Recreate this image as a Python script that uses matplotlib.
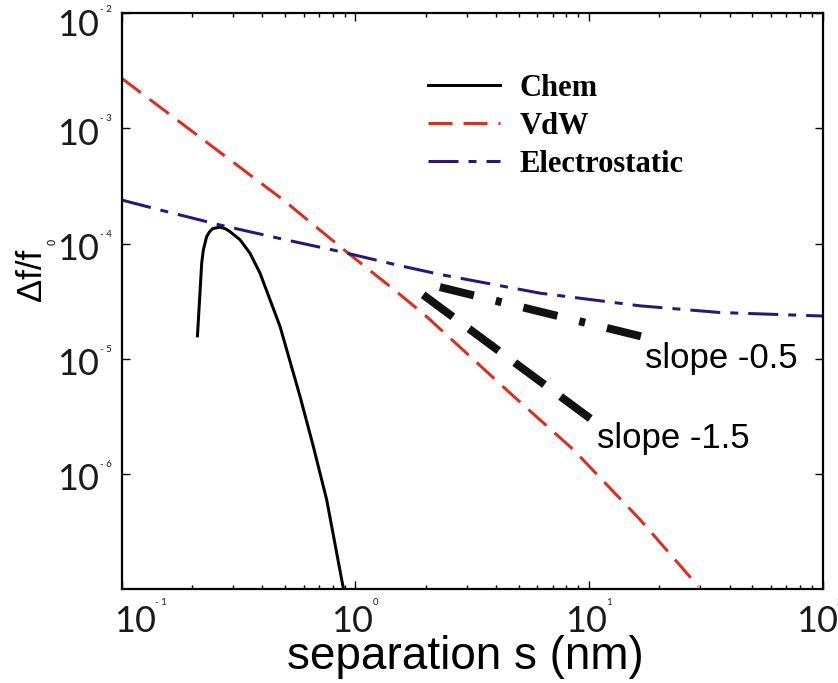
import matplotlib
matplotlib.use('Agg')
import matplotlib.pyplot as plt
from matplotlib.ticker import LogLocator, NullFormatter, NullLocator

# data (separation in nm, df/f0)
chem_s = [0.211, 0.220, 0.2236, 0.231, 0.238, 0.245, 0.2636, 0.279, 0.2908, 0.321, 0.354, 0.391, 0.476, 0.580, 0.661, 0.754, 0.888]
chem_df = [1.58e-5, 6.76e-5, 8.81e-5, 1.15e-4, 1.27e-4, 1.35e-4, 1.39e-4, 1.34e-4, 1.27e-4, 1.08e-4, 8.26e-5, 5.53e-5, 1.91e-5, 4.70e-6, 1.73e-6, 5.96e-7, 1.02e-7]

vdw_s = [0.1, 0.492, 0.888, 1.50, 2.02, 4.60, 8.58, 16.55, 29.4]
vdw_df = [2.73e-3, 2.39e-4, 8.93e-5, 3.83e-5, 2.32e-5, 5.02e-6, 1.62e-6, 4.0e-7, 1.05e-7]

elec_s = [0.1, 0.146, 0.2636, 0.492, 0.86, 1.50, 2.30, 6.18, 16.55, 36.4, 100]
elec_df = [2.39e-4, 1.96e-4, 1.45e-4, 1.09e-4, 8.53e-5, 6.53e-5, 5.4e-5, 3.71e-5, 2.88e-5, 2.52e-5, 2.35e-5]

slope15_s = [1.95, 10.3]
slope15_df = [3.59e-5, 2.95e-6]
slope05_s = [2.30, 16.8]
slope05_df = [4.19e-5, 1.56e-5]

xtick_vals = [0.1, 1, 10, 100]
xtick_exp = ['- 1', '0', '1', '2']
ytick_vals = [1e-2, 1e-3, 1e-4, 1e-5, 1e-6]
ytick_exp = ['- 2', '- 3', '- 4', '- 5', '- 6']

PX = 0.72  # points per pixel at dpi 100
plt.rcParams['lines.scale_dashes'] = False

red = '#dc2d1e'
navy = '#28167c'

fig = plt.figure(figsize=(8.38, 6.83), dpi=100)
ax = fig.add_axes([0.1452, 0.1376, 0.8365, 0.8429])

ax.plot(chem_s, chem_df, color='black', lw=3 * PX, label='Chem', solid_joinstyle='round')
ax.plot(vdw_s, vdw_df, color=red, lw=3 * PX, label='VdW',
        linestyle=(0, (24 * PX, 11 * PX)))
ax.plot(elec_s, elec_df, color=navy, lw=3 * PX, label='Electrostatic',
        linestyle=(0, (30 * PX, 10 * PX, 8 * PX, 10 * PX)))

ax.plot(slope15_s, slope15_df, color='#111111', lw=8 * PX, dash_capstyle='butt',
        linestyle=(0, (37 * PX, 20 * PX)))
ax.plot(slope05_s, slope05_df, color='#111111', lw=8 * PX, dash_capstyle='butt',
        linestyle=(0, (35 * PX, 22.5 * PX, 6 * PX, 22.5 * PX)))

ax.text(17.4, 8.34e-6, 'slope -0.5', fontsize=25, family='Liberation Sans', va='baseline')
ax.text(10.8, 1.69e-6, 'slope -1.5', fontsize=25, family='Liberation Sans', va='baseline')

ax.set_xscale('log')
ax.set_yscale('log')
ax.set_xlim(0.1, 100)
ax.set_ylim(1e-7, 1e-2)

ax.xaxis.set_major_locator(LogLocator(base=10))
ax.xaxis.set_minor_locator(LogLocator(base=10, subs=range(2, 10)))
ax.yaxis.set_minor_locator(NullLocator())
ax.set_yticks(ytick_vals)
ax.xaxis.set_major_formatter(NullFormatter())
ax.xaxis.set_minor_formatter(NullFormatter())
ax.yaxis.set_major_formatter(NullFormatter())
ax.tick_params(which='both', direction='in', top=True, right=True, width=1.0)
ax.tick_params(which='major', length=8 * PX)
ax.tick_params(which='minor', length=4 * PX)
for sp in ax.spines.values():
    sp.set_linewidth(1.6)

tick_font = dict(family=['Lato', 'DejaVu Sans'], color='#1a1a1a')

# x tick labels: "10" with a tiny exponent
x_shift = [13, -3, -3, -6]
for v, e, dx in zip(xtick_vals, xtick_exp, x_shift):
    ax.annotate('10', xy=(v, 0), xycoords=('data', 'axes fraction'),
                xytext=(dx * PX, -16 * PX), textcoords='offset points',
                ha='center', va='top', fontsize=26, annotation_clip=False, **tick_font)
    ax.annotate(e, xy=(v, 0), xycoords=('data', 'axes fraction'),
                xytext=((dx + 20) * PX, -9 * PX), textcoords='offset points',
                ha='left', va='top', fontsize=7, annotation_clip=False, **tick_font)

y_shift = [-12, -6, -6, -6, -6]
for v, e, dy in zip(ytick_vals, ytick_exp, y_shift):
    ax.annotate('10', xy=(0, v), xycoords=('axes fraction', 'data'),
                xytext=(-23 * PX, dy * PX), textcoords='offset points',
                ha='right', va='center', fontsize=26, annotation_clip=False, **tick_font)
    ax.annotate(e, xy=(0, v), xycoords=('axes fraction', 'data'),
                xytext=(-21.5 * PX, (dy + 20) * PX), textcoords='offset points',
                ha='left', va='top', fontsize=7, annotation_clip=False, **tick_font)

ax.text(0.49, -0.118, 'separation s (nm)', transform=ax.transAxes, fontsize=33,
        family='Liberation Sans', ha='center', va='center')
ax.text(-0.1285, 0.545, 'Δf/f', transform=ax.transAxes, fontsize=25,
        family='Liberation Sans', rotation=90, ha='center', va='center')
ax.text(-0.0985, 0.6027, '0', transform=ax.transAxes, fontsize=8,
        family='Liberation Sans', rotation=90, ha='center', va='center')

ax.legend(loc='upper left', bbox_to_anchor=(0.437, 0.895), frameon=False,
          prop=dict(family='Liberation Serif', weight='bold', size=22),
          handlelength=2.35, handletextpad=0.65, labelspacing=0.3,
          borderpad=0, borderaxespad=0)

fig.savefig('out.png', dpi=100)
